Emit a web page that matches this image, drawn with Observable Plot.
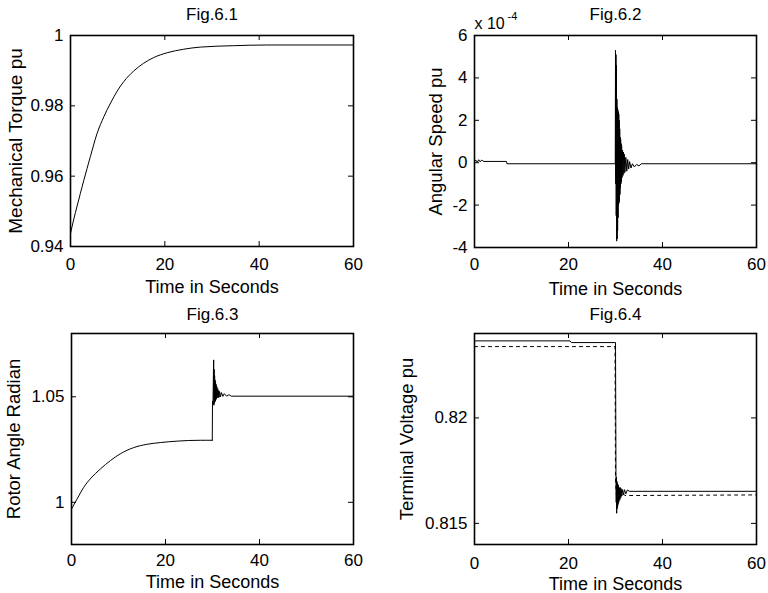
<!DOCTYPE html>
<html><head><meta charset="utf-8">
<script src="https://cdn.jsdelivr.net/npm/d3@7"></script>
<script src="https://cdn.jsdelivr.net/npm/@observablehq/plot@0.6"></script>
<style>
body{margin:0;background:#fff}
#wrap{position:relative;width:768px;height:593px;overflow:hidden;background:#fff}
#wrap svg{position:absolute;overflow:visible}
</style></head><body><div id="wrap"></div>
<script>
// ---------- data ----------
const timeTicks = [0, 20, 40, 60];

// Fig.6.1 Mechanical torque (pu)
const torqueT = [0, 0.7, 1.4, 2.8, 4.2, 5.6, 7.1, 8.5, 9.9, 11.3, 13.4, 15.5, 17.6, 20.5, 24, 27.5, 34.6, 41.6, 60];
const torqueV = [0.9437, 0.9478, 0.9515, 0.9587, 0.9655, 0.9720, 0.9770, 0.9808, 0.9842, 0.9869, 0.9899, 0.9921, 0.9937, 0.9951, 0.9961, 0.9967, 0.9971, 0.9973, 0.9973];
const torqueTicks = [0.94, 0.96, 0.98, 1];

// Fig.6.2 Angular speed (x 10^-4 pu)
const speedT = [0, 0.3, 0.6, 0.9, 1.2, 1.5, 2.0, 6.8, 6.9, 29.95,
  30.0, 30.05, 30.1, 30.15, 30.2, 30.25, 30.3, 30.35, 30.4, 30.45, 30.5, 30.55, 30.6, 30.65, 30.7, 30.75, 30.8, 30.85, 30.9, 30.95,
  31.0, 31.05, 31.1, 31.15, 31.2, 31.25, 31.3, 31.4, 31.5, 31.6, 31.7, 31.8, 31.9, 32.0, 32.2, 32.4, 32.6, 32.8, 33.0, 33.3, 33.6, 34.0, 34.5, 35.0, 35.5, 60];
const speedV = [0.05, 0.12, 0.02, 0.14, 0.04, 0.12, 0.06, 0.06, -0.05, -0.05,
  5.3, -1.0, 5.1, -2.5, 4.6, -3.7, 3.0, -3.6, 2.6, -3.2, 2.5, -2.6, 2.4, -2.0, 2.3, -1.9, 2.0, -1.8, 1.6, -1.5,
  1.2, -1.2, 1.1, -1.0, 0.9, -0.9, 0.8, -0.7, 0.6, -0.6, 0.5, -0.5, 0.4, -0.45, 0.25, -0.4, 0.15, -0.3, 0.05, -0.25, -0.05, -0.2, -0.08, -0.15, -0.05, -0.05];
const speedTicks = [-4, -2, 0, 2, 4, 6];

// Fig.6.3 Rotor angle (radian)
const angleT = [0, 1.2, 2.6, 4.0, 6.2, 8.3, 10.4, 13.2, 16.1, 18.9, 22.5, 27.4, 29.95,
  30.0, 30.1, 30.2, 30.25, 30.3, 30.35, 30.4, 30.45, 30.5, 30.55, 30.6, 30.65, 30.7, 30.75, 30.8, 30.9, 31.0, 31.1, 31.2, 31.3, 31.4, 31.5, 31.7, 31.9, 32.2, 32.5, 33.0, 33.5, 34.0, 60];
const angleV = [0.9968, 1.0016, 1.0071, 1.0111, 1.0159, 1.0198, 1.0230, 1.0259, 1.0275, 1.0283, 1.0290, 1.0294, 1.0294,
  1.048, 1.0465, 1.062, 1.0675, 1.046, 1.063, 1.047, 1.060, 1.0475, 1.058, 1.048, 1.057, 1.0485, 1.056, 1.049, 1.055, 1.0495, 1.054, 1.0495, 1.053, 1.0498, 1.0525, 1.050, 1.052, 1.0502, 1.0515, 1.0503, 1.051, 1.0503, 1.0503];
const angleTicks = [1, 1.05];

// Fig.6.4 Terminal voltage (pu): solid and dashed traces
const voltT = [0, 20.3, 20.6, 30.0, 30.1, 30.15, 30.2, 30.25, 30.3, 30.35, 30.4, 30.45, 30.5, 30.55, 30.6, 30.7, 30.8, 30.9, 31.0, 31.1, 31.2, 31.35, 31.5, 31.7, 31.9, 32.2, 32.5, 33, 60];
const voltV = [0.82365, 0.82365, 0.82357, 0.82357, 0.8174, 0.8160, 0.8172, 0.81548, 0.8170, 0.8157, 0.8169, 0.8158, 0.81685, 0.8159, 0.8168, 0.8160, 0.8167, 0.8161, 0.8167, 0.8162, 0.81665, 0.8163, 0.8166, 0.81635, 0.8166, 0.8164, 0.81658, 0.81652, 0.81652];
const volt2T = [0, 29.9, 30.0, 30.3, 30.6, 31.0, 31.5, 32.0, 60];
const volt2V = [0.82338, 0.82338, 0.8170, 0.8160, 0.8167, 0.8162, 0.81645, 0.81632, 0.81635];
const voltTicks = [0.815, 0.82];

const toRows = (ts, vs) => ts.map((t, i) => ({t, v: vs[i]}));

// ---------- drawing ----------
const FONT = "'Liberation Sans', Arial, Helvetica, sans-serif";
const wrap = document.getElementById("wrap");

function panel(c) {
  const pw = c.width - c.ml - c.mr, ph = c.height - c.mt - c.mb, tk = 5;
  const marks = [
    ...c.lines.map(l => Plot.line(toRows(l.t, l.v), {x: "t", y: "v", stroke: "black", strokeWidth: 1, strokeDasharray: l.dash, curve: l.curve || "linear", clip: true})),
    Plot.ruleX(timeTicks, {x: d => d, insetTop: ph - tk, stroke: "black"}),
    Plot.ruleX(timeTicks, {x: d => d, insetBottom: ph - tk, stroke: "black"}),
    Plot.ruleY(c.yTicks, {y: d => d, insetRight: pw - tk, stroke: "black"}),
    Plot.ruleY(c.yTicks, {y: d => d, insetLeft: pw - tk, stroke: "black"}),
    Plot.frame({stroke: "black", strokeWidth: 1.6}),
    Plot.axisX({ticks: timeTicks, tickSize: 0, tickPadding: c.xPad, label: null, tickFormat: d => String(d), fill: "black"}),
    Plot.axisY({ticks: c.yTicks, tickSize: 0, tickPadding: 7, label: null, tickFormat: d => String(d), fill: "black"}),
    Plot.text([c.title], {text: d => d, frameAnchor: "top", dy: c.titleDy, lineAnchor: "bottom", fill: "black"}),
    Plot.text([c.xlabel], {text: d => d, frameAnchor: "bottom", dy: c.xlabDy, lineAnchor: "bottom", fontSize: 18, fill: "black"}),
    Plot.text([c.ylabel], {text: d => d, frameAnchor: "left", textAnchor: "middle", dx: c.ylabDx, rotate: -90, lineAnchor: "middle", fontSize: c.ylabSize || 18.5, fill: "black"}),
    ...(c.extra || [])
  ];
  const svg = Plot.plot({
    width: c.width, height: c.height,
    marginLeft: c.ml, marginRight: c.mr, marginTop: c.mt, marginBottom: c.mb,
    x: {domain: [0, 60]},
    y: {domain: c.yDomain},
    style: {fontFamily: FONT, fontSize: "17px", color: "black", background: "transparent"},
    marks
  });
  svg.style.left = c.left + "px";
  svg.style.top = c.top + "px";
  wrap.appendChild(svg);
}

panel({left: 0, top: 0, width: 384, height: 300, ml: 70, mr: 31, mt: 35, mb: 54,
  yDomain: [0.94, 1], yTicks: torqueTicks, xPad: 11, titleDy: -16, xlabDy: 46, ylabDx: -55, ylabSize: 19,
  title: "Fig.6.1", xlabel: "Time in Seconds", ylabel: "Mechanical Torque pu",
  lines: [{t: torqueT, v: torqueV, curve: "monotone-x"}]});

panel({left: 384, top: 0, width: 384, height: 300, ml: 90, mr: 12, mt: 35, mb: 53,
  yDomain: [-4, 6], yTicks: speedTicks, xPad: 10, titleDy: -16, xlabDy: 47, ylabDx: -38,
  title: "Fig.6.2", xlabel: "Time in Seconds", ylabel: "Angular Speed pu",
  lines: [{t: speedT, v: speedV}],
  extra: [
    Plot.text(["x 10"], {text: d => d, frameAnchor: "top-left", textAnchor: "start", dy: -7, lineAnchor: "bottom", fontSize: 16, fill: "black"}),
    Plot.text(["-4"], {text: d => d, frameAnchor: "top-left", textAnchor: "start", dx: 33, dy: -16, lineAnchor: "bottom", fontSize: 11, fill: "black"})
  ]});

panel({left: 0, top: 296, width: 384, height: 297, ml: 71, mr: 31, mt: 37, mb: 49,
  yDomain: [0.98, 1.08], yTicks: angleTicks, xPad: 9, titleDy: -14, xlabDy: 43, ylabDx: -57,
  title: "Fig.6.3", xlabel: "Time in Seconds", ylabel: "Rotor Angle Radian",
  lines: [{t: angleT.slice(0, 13), v: angleV.slice(0, 13), curve: "monotone-x"}, {t: angleT.slice(12), v: angleV.slice(12)}]});

panel({left: 384, top: 296, width: 384, height: 297, ml: 90, mr: 12, mt: 37, mb: 49,
  yDomain: [0.814, 0.824], yTicks: voltTicks, xPad: 12, titleDy: -14, xlabDy: 45, ylabDx: -67,
  title: "Fig.6.4", xlabel: "Time in Seconds", ylabel: "Terminal Voltage pu",
  lines: [{t: voltT, v: voltV}, {t: volt2T, v: volt2V, dash: "3,4"}]});
</script>
</body></html>
